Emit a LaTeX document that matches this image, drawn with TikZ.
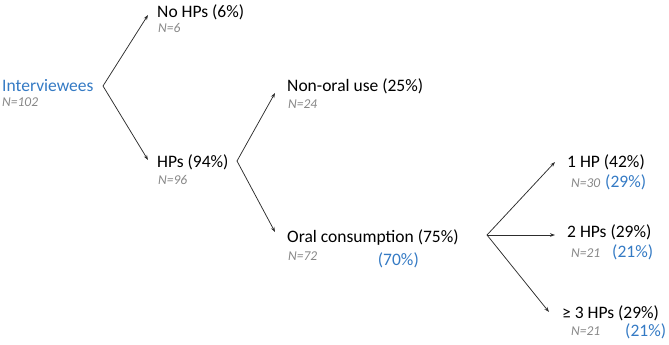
\documentclass[tikz,border=0pt]{standalone}
\usepackage{fontspec}
\setmainfont{Carlito}
\usetikzlibrary{arrows.meta,positioning,calc}
\definecolor{cBlue}{RGB}{52,122,196}
\definecolor{cGray}{RGB}{135,135,135}
\definecolor{cLine}{RGB}{45,45,45}

\begin{document}
\begin{tikzpicture}[
    x=1pt, y=-1pt,
    lab/.style={anchor=west,inner sep=0pt,font=\fontsize{17.5}{20}\selectfont},
    nlab/.style={anchor=west,inner sep=0pt,text=cGray,font=\fontsize{13.5}{15}\selectfont\itshape},
    pct/.style={inner sep=0pt,text=cBlue,font=\fontsize{17.5}{20}\selectfont},
    arr/.style={-{Stealth[length=5pt,width=3.6pt]},cLine,line width=0.75pt},
  ]
  \useasboundingbox (0,0) rectangle (669,345);
  % level 0
  \node[lab,text=cBlue] (root) at (2,86) {Interviewees};
  \node[nlab] (nroot) at (2,102) {N=102};
  % level 1
  \node[lab] (nohp) at (157,12) {No HPs (6\%)};
  \node[nlab] (nnohp) at (158,28) {N=6};
  \node[lab] (hps) at (157,162) {HPs (94\%)};
  \node[nlab] (nhps) at (158,180) {N=96};
  % level 2
  \node[lab] (nonoral) at (287,86) {Non-oral use (25\%)};
  \node[nlab] (nnonoral) at (288,104) {N=24};
  \node[lab] (oral) at (287,238) {Oral consumption (75\%)};
  \node[nlab] (noral) at (288,256) {N=72};
  \node[pct,anchor=east] (poral) at (419,260) {(70\%)};
  % level 3
  \node[lab] (one) at (567,162) {1 HP (42\%)};
  \node[nlab] (none) at (571,183) {N=30};
  \node[pct,anchor=west] (pone) at (605,182) {(29\%)};
  \node[lab] (two) at (567,232) {2 HPs (29\%)};
  \node[nlab] (ntwo) at (571,253) {N=21};
  \node[pct,anchor=west] (ptwo) at (612,252) {(21\%)};
  \node[lab] (three) at (562,313) {≥ 3 HPs (29\%)};
  \node[nlab] (nthree) at (571,331) {N=21};
  \node[pct,anchor=west] (pthree) at (625,331) {(21\%)};
  % forks
  \coordinate (f1) at (103,86);
  \coordinate (f2) at (237,161);
  \coordinate (f3) at (487,235);
  \draw[arr] (f1) -- ($(nohp.west)+(-9,3)$);
  \draw[arr] (f1) -- ($(hps.west)+(-9,-2)$);
  \draw[arr] (f2) -- ($(nonoral.west)+(-12,7)$);
  \draw[arr] (f2) -- ($(oral.west)+(-12,-6)$);
  \draw[arr] (f3) -- ($(one.west)+(-12,0)$);
  \draw[arr] (f3) -- ($(two.west)+(-12,3)$);
  \draw[arr] (f3) -- ($(three.west)+(-13,-1)$);
\end{tikzpicture}
\end{document}
